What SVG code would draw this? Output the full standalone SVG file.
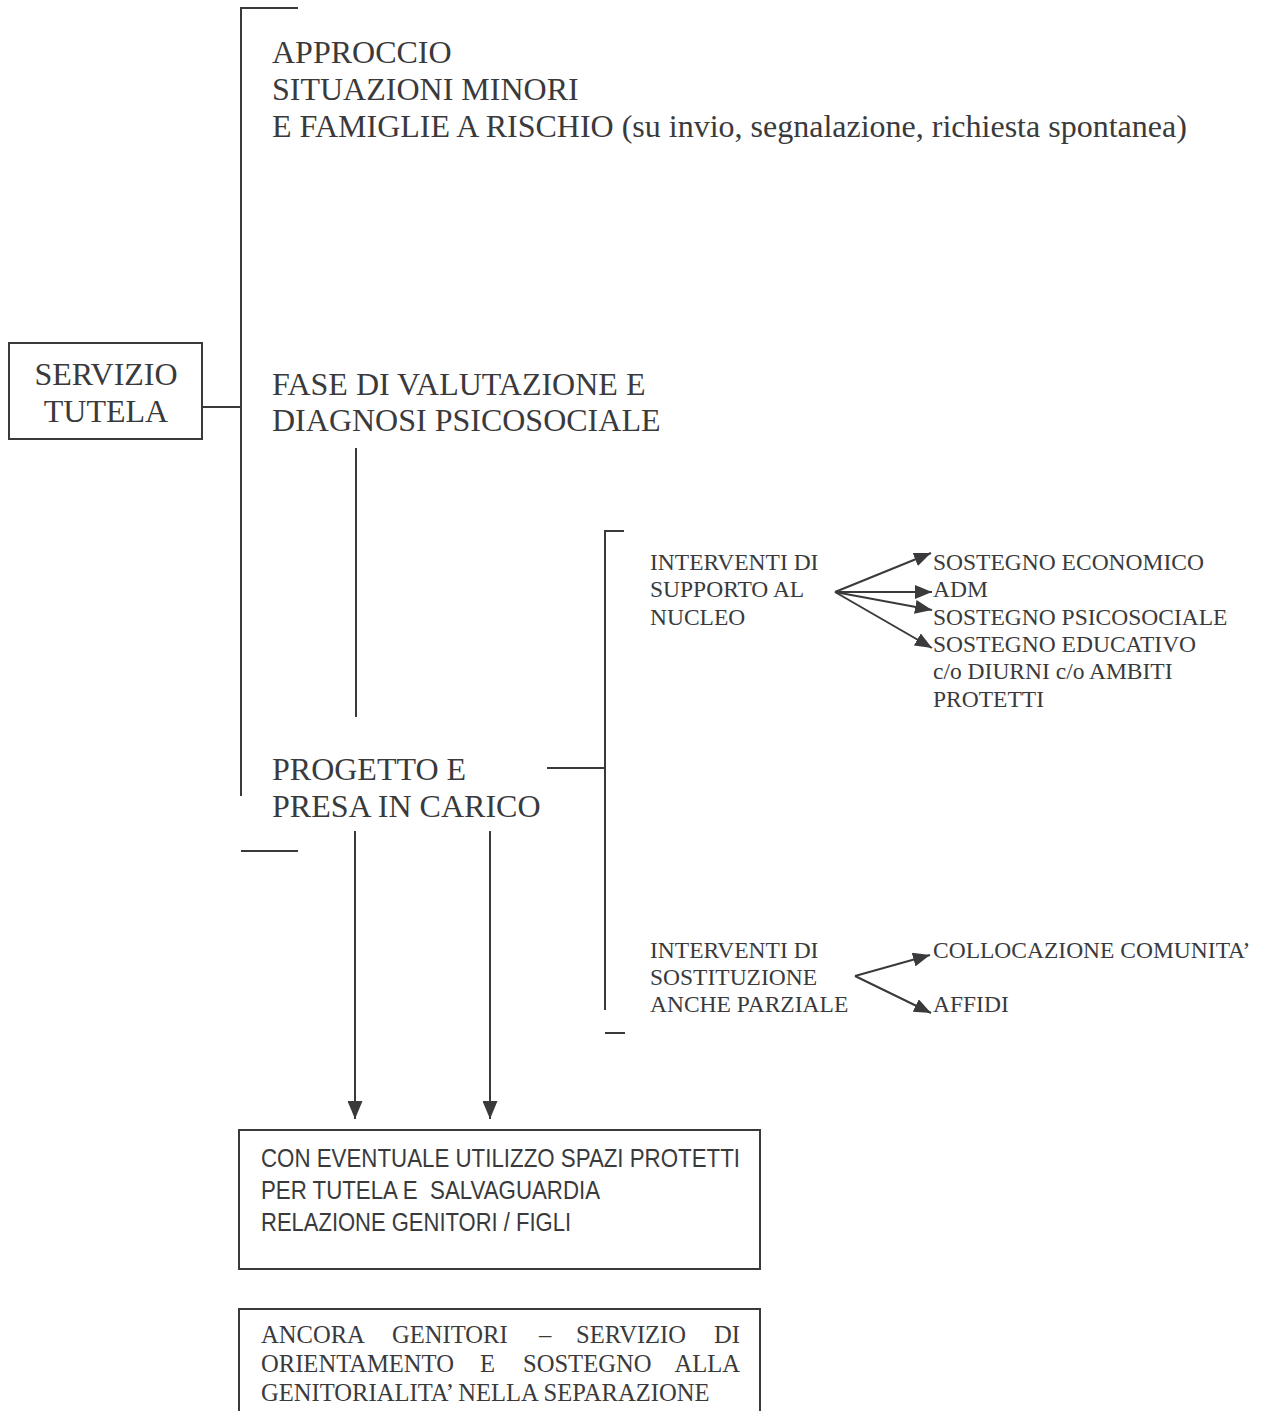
<svg xmlns="http://www.w3.org/2000/svg" width="1270" height="1411" viewBox="0 0 1270 1411">
<style>
.s{font-family:"Liberation Serif","Times New Roman",serif;fill:#3a3a3c}
.big{font-size:32px}
.mid{font-size:23.5px}
.box2{font-size:24.6px}
.sans{font-family:"Liberation Sans",Arial,sans-serif;fill:#3a3a3c;font-size:25px;white-space:pre}
.ln{stroke:#3a3a3c;stroke-width:2;fill:none}
.bx{stroke:#3a3a3c;stroke-width:2;fill:#fff}
</style>
<defs>
<marker id="ah" viewBox="0 0 17 14" refX="17" refY="7" markerWidth="17" markerHeight="14" markerUnits="userSpaceOnUse" orient="auto">
<path d="M0,0 L17,7 L0,14 z" fill="#3a3a3c"/>
</marker>
<marker id="ahd" viewBox="0 0 18 15" refX="18" refY="7.5" markerWidth="18" markerHeight="15" markerUnits="userSpaceOnUse" orient="auto">
<path d="M0,0 L18,7.5 L0,15 z" fill="#3a3a3c"/>
</marker>
</defs>
<rect width="1270" height="1411" fill="#fff"/>

<g id="connectors">
<polyline class="ln" points="298,8 241,8 241,796"/>
<line class="ln" x1="241" y1="851" x2="298" y2="851"/>
<line class="ln" x1="202" y1="407" x2="241" y2="407"/>
<line class="ln" x1="356" y1="448" x2="356" y2="717"/>
<line class="ln" x1="547" y1="768" x2="605" y2="768"/>
<polyline class="ln" points="624,531 605,531 605,1010"/>
<line class="ln" x1="605" y1="1033" x2="625" y2="1033"/>
<line class="ln" x1="835" y1="592" x2="931" y2="553" marker-end="url(#ah)"/>
<line class="ln" x1="835" y1="592" x2="932" y2="592" marker-end="url(#ah)"/>
<line class="ln" x1="835" y1="592" x2="932" y2="610" marker-end="url(#ah)"/>
<line class="ln" x1="835" y1="592" x2="932" y2="648" marker-end="url(#ah)"/>
<line class="ln" x1="855" y1="976" x2="930" y2="955" marker-end="url(#ah)"/>
<line class="ln" x1="855" y1="976" x2="931" y2="1013" marker-end="url(#ah)"/>
<line class="ln" x1="355" y1="831" x2="355" y2="1119" marker-end="url(#ahd)"/>
<line class="ln" x1="490" y1="831" x2="490" y2="1119" marker-end="url(#ahd)"/>
</g>

<g id="servizio-tutela">
<rect class="bx" x="9" y="343" width="193" height="96"/>
<text class="s big" x="106" y="385" text-anchor="middle">SERVIZIO</text>
<text class="s big" x="106" y="422" text-anchor="middle">TUTELA</text>
</g>

<g id="approccio">
<text class="s big" x="272" y="63">APPROCCIO</text>
<text class="s big" x="272" y="100">SITUAZIONI MINORI</text>
<text class="s big" x="272" y="137">E FAMIGLIE A RISCHIO (su invio, segnalazione, richiesta spontanea)</text>
</g>

<g id="valutazione">
<text class="s big" x="272" y="395">FASE DI VALUTAZIONE E</text>
<text class="s big" x="272" y="431">DIAGNOSI PSICOSOCIALE</text>
</g>

<g id="progetto">
<text class="s big" x="272" y="780">PROGETTO E</text>
<text class="s big" x="272" y="817">PRESA IN CARICO</text>
</g>

<g id="supporto">
<text class="s mid" x="650" y="570">INTERVENTI DI</text>
<text class="s mid" x="650" y="597">SUPPORTO AL</text>
<text class="s mid" x="650" y="625">NUCLEO</text>
</g>

<g id="supporto-esiti">
<text class="s mid" x="933" y="570">SOSTEGNO ECONOMICO</text>
<text class="s mid" x="933" y="597">ADM</text>
<text class="s mid" x="933" y="625">SOSTEGNO PSICOSOCIALE</text>
<text class="s mid" x="933" y="652">SOSTEGNO EDUCATIVO</text>
<text class="s mid" x="933" y="679">c/o DIURNI c/o AMBITI</text>
<text class="s mid" x="933" y="707">PROTETTI</text>
</g>

<g id="sostituzione">
<text class="s mid" x="650" y="958">INTERVENTI DI</text>
<text class="s mid" x="650" y="985">SOSTITUZIONE</text>
<text class="s mid" x="650" y="1012">ANCHE PARZIALE</text>
</g>

<g id="collocazione">
<text class="s mid" x="933" y="958">COLLOCAZIONE COMUNITA’</text>
</g>
<g id="affidi">
<text class="s mid" x="933" y="1012">AFFIDI</text>
</g>

<g id="spazi-protetti">
<rect class="bx" x="239" y="1130" width="521" height="139"/>
<text class="sans" x="261" y="1167" textLength="479" lengthAdjust="spacingAndGlyphs">CON EVENTUALE UTILIZZO SPAZI PROTETTI</text>
<text class="sans" x="261" y="1199" textLength="339" lengthAdjust="spacingAndGlyphs">PER TUTELA E  SALVAGUARDIA</text>
<text class="sans" x="261" y="1231" textLength="310" lengthAdjust="spacingAndGlyphs">RELAZIONE GENITORI / FIGLI</text>
</g>

<g id="ancora-genitori">
<polyline class="bx" points="239,1412 239,1309 760,1309 760,1412"/>
<text class="s box2" y="1343"><tspan x="261">ANCORA</tspan><tspan x="392">GENITORI</tspan><tspan x="539">–</tspan><tspan x="576">SERVIZIO</tspan></text>
<text class="s box2" x="740" y="1343" text-anchor="end">DI</text>
<text class="s box2" y="1372"><tspan x="261">ORIENTAMENTO</tspan><tspan x="480">E</tspan><tspan x="523">SOSTEGNO</tspan></text>
<text class="s box2" x="740" y="1372" text-anchor="end">ALLA</text>
<text class="s box2" x="261" y="1401">GENITORIALITA’ NELLA SEPARAZIONE</text>
</g>
</svg>
